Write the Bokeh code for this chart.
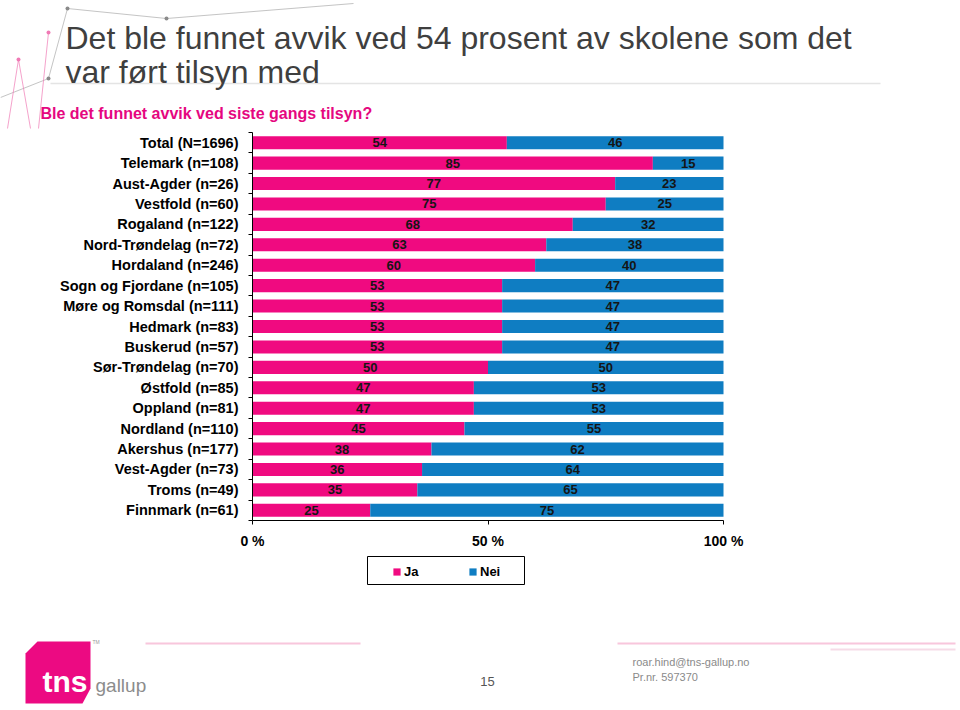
from bokeh.plotting import figure
from bokeh.models import (Range1d, FixedTicker, LinearAxis, ColumnDataSource, Label,
                          Legend, LegendItem)
from bokeh.core.properties import value
from bokeh.embed import file_html
from bokeh.resources import INLINE

# ---------------- data ----------------
regions = ["Total (N=1696)", "Telemark (n=108)", "Aust-Agder (n=26)", "Vestfold (n=60)",
           "Rogaland (n=122)", "Nord-Trøndelag (n=72)", "Hordaland (n=246)",
           "Sogn og Fjordane (n=105)", "Møre og Romsdal (n=111)", "Hedmark (n=83)",
           "Buskerud (n=57)", "Sør-Trøndelag (n=70)", "Østfold (n=85)", "Oppland (n=81)",
           "Nordland (n=110)", "Akershus (n=177)", "Vest-Agder (n=73)", "Troms (n=49)",
           "Finnmark (n=61)"]
ja = [54, 85, 77, 75, 68, 63, 60, 53, 53, 53, 53, 50, 47, 47, 45, 38, 36, 35, 25]
nei = [46, 15, 23, 25, 32, 38, 40, 47, 47, 47, 47, 50, 53, 53, 55, 62, 64, 65, 75]
series = ["Ja", "Nei"]
x_ticks = [0, 50, 100]
x_tick_labels = ["0 %", "50 %", "100 %"]

title_lines = ["Det ble funnet avvik ved 54 prosent av skolene som det", "var ført tilsyn med"]
subtitle = "Ble det funnet avvik ved siste gangs tilsyn?"
footer_page = "15"
footer_contact = ["roar.hind@tns-gallup.no", "Pr.nr. 597370"]

PINK = "#F00A80"
BLUE = "#0F7DC2"
FONT = "Liberation Sans"

# ---------------- canvas / layout (page pixels) ----------------
W, H = 958, 708
FL, FT, FR, FB = 252, 132, 723, 520     # plot-area edges on the page
n = len(regions)
row_h = (FB - FT) / n
pct_px = (FR - FL) / 100.0

p = figure(width=W, height=H, output_backend="svg", toolbar_location=None,
           x_range=Range1d(0, W), y_range=Range1d(H, 0),
           x_axis_location=None, y_axis_location=None,
           min_border=0, outline_line_color=None)
p.xgrid.visible = False
p.ygrid.visible = False

# chart coordinate systems: percent along x, row index along y (0 at top)
p.extra_x_ranges = {"pct": Range1d(-FL / pct_px, (W - FL) / pct_px)}
p.extra_y_ranges = {"row": Range1d(n - 0.5 + (H - FB) / row_h, -0.5 - FT / row_h)}
C = dict(x_range_name="pct", y_range_name="row")

# 100 % stacked: each row is normalised to its own total
totals = [a + b for a, b in zip(ja, nei)]
ja_pct = [100.0 * a / t for a, t in zip(ja, totals)]
nei_pct = [100.0 * b / t for b, t in zip(nei, totals)]

idx = list(range(n))
src = ColumnDataSource(dict(y=idx, ja_pct=ja_pct, nei_pct=nei_pct,
                            ja_mid=[a / 2 for a in ja_pct],
                            nei_mid=[a + b / 2 for a, b in zip(ja_pct, nei_pct)],
                            ja_txt=[str(a) for a in ja],
                            nei_txt=[str(b) for b in nei]))

rs = p.hbar_stack(["ja_pct", "nei_pct"], y="y", height=0.64, color=[PINK, BLUE],
                  line_color=None, source=src, **C)

for xcol, tcol in (("ja_mid", "ja_txt"), ("nei_mid", "nei_txt")):
    p.text(x=xcol, y="y", text=tcol, source=src, text_align="center", text_baseline="middle",
           text_font=value(FONT), text_font_style="bold", text_font_size="13px",
           text_color="#151515", **C)

xaxis = LinearAxis(ticker=FixedTicker(ticks=x_ticks), bounds=(0, 100),
                   fixed_location=n - 0.5, **C,
                   major_label_overrides={t: l for t, l in zip(x_ticks, x_tick_labels)},
                   major_tick_in=0, major_tick_out=4, minor_tick_in=0, minor_tick_out=0,
                   axis_line_color="black", major_tick_line_color="black",
                   major_label_text_font=FONT, major_label_text_font_style="bold",
                   major_label_text_font_size="14px", major_label_text_color="black",
                   major_label_standoff=8)
p.add_layout(xaxis, "below")

yaxis = LinearAxis(ticker=FixedTicker(ticks=idx, minor_ticks=[i - 0.5 for i in range(n + 1)]),
                   bounds=(-0.5, n - 0.5), fixed_location=0, **C,
                   major_label_overrides={i: r for i, r in zip(idx, regions)},
                   major_tick_in=0, major_tick_out=0, minor_tick_in=0, minor_tick_out=4,
                   axis_line_color="black", minor_tick_line_color="black",
                   major_label_text_font=FONT, major_label_text_font_style="bold",
                   major_label_text_font_size="14.5px", major_label_text_color="black",
                   major_label_standoff=10)
p.add_layout(yaxis, "left")

# legend box + legend items
p.quad(left=[367], right=[524], top=[556], bottom=[584], fill_color="white",
       line_color="black", line_width=1)
legend = Legend(items=[LegendItem(label=s, renderers=[r]) for s, r in zip(series, rs)],
                orientation="horizontal", location=(392, H - 579),
                border_line_color=None, background_fill_alpha=0,
                padding=0, margin=0, spacing=44, glyph_width=9, glyph_height=9,
                label_standoff=3, label_height=14,
                label_text_font=FONT, label_text_font_style="bold",
                label_text_font_size="13px", label_text_color="black")
p.add_layout(legend, "center")

# ---------------- header ----------------
p.segment(x0=[50], y0=[83], x1=[880], y1=[83], line_color="#e4e4e4", line_width=1.5)
p.segment(x0=[0, 48, 67, 166], y0=[97, 78, 8, 18], x1=[48, 67, 166, 353], y1=[78, 8, 18, 3],
          line_color="#8a8a8a", line_width=1, line_alpha=0.5)
p.segment(x0=[48, 18, 18], y0=[32, 59, 59], x1=[38, 7, 30], y1=[128, 128, 128],
          line_color="#f07ab5", line_width=1, line_alpha=0.7)
p.scatter(x=[48, 18, 48, 67, 166], y=[32, 59, 78, 8, 18], size=4,
          color=["#f07ab5", "#f07ab5", "#8a8a8a", "#8a8a8a", "#8a8a8a"], line_color=None)
p.add_layout(Label(x=65, y=37.5, text=title_lines[0], text_font=FONT, text_font_size="32px",
                   text_color="#3f3f3f", text_baseline="alphabetic"))
p.add_layout(Label(x=65, y=71.5, text=title_lines[1], text_font=FONT, text_font_size="32px",
                   text_color="#3f3f3f", text_baseline="alphabetic"))
p.add_layout(Label(x=40, y=113.3, text=subtitle, text_font=FONT, text_font_size="16px",
                   text_font_style="bold", text_color="#E5077F", text_baseline="alphabetic"))

# ---------------- footer ----------------
p.segment(x0=[145, 617, 830], y0=[643, 643, 649], x1=[360, 955, 955], y1=[643, 643, 649],
          line_color=["#f8c6dc", "#f8c6dc", "#f6dbe7"], line_width=2)
p.patch(x=[25, 37, 90, 90, 82, 25], y=[653, 641, 641, 688, 703, 703],
        fill_color="#EC0A82", line_color=None)
p.add_layout(Label(x=42, y=681, text="tns", text_font=FONT, text_font_size="30px",
                   text_font_style="bold", text_color="white", text_baseline="alphabetic"))
p.add_layout(Label(x=92, y=641, text="TM", text_font=FONT, text_font_size="5px",
                   text_color="#999999", text_baseline="middle"))
p.add_layout(Label(x=95, y=685, text="gallup", text_font=FONT, text_font_size="19px",
                   text_color="#8c8c8c", text_baseline="alphabetic"))
p.add_layout(Label(x=487, y=681, text=footer_page, text_font=FONT, text_font_size="13px",
                   text_color="#555555", text_align="center", text_baseline="middle"))
p.add_layout(Label(x=632, y=661.5, text=footer_contact[0], text_font=FONT,
                   text_font_size="11px", text_color="#8a8a8a", text_baseline="middle"))
p.add_layout(Label(x=632, y=676.5, text=footer_contact[1], text_font=FONT,
                   text_font_size="11px", text_color="#8a8a8a", text_baseline="middle"))

open("out.html", "w").write(file_html(p, INLINE))
